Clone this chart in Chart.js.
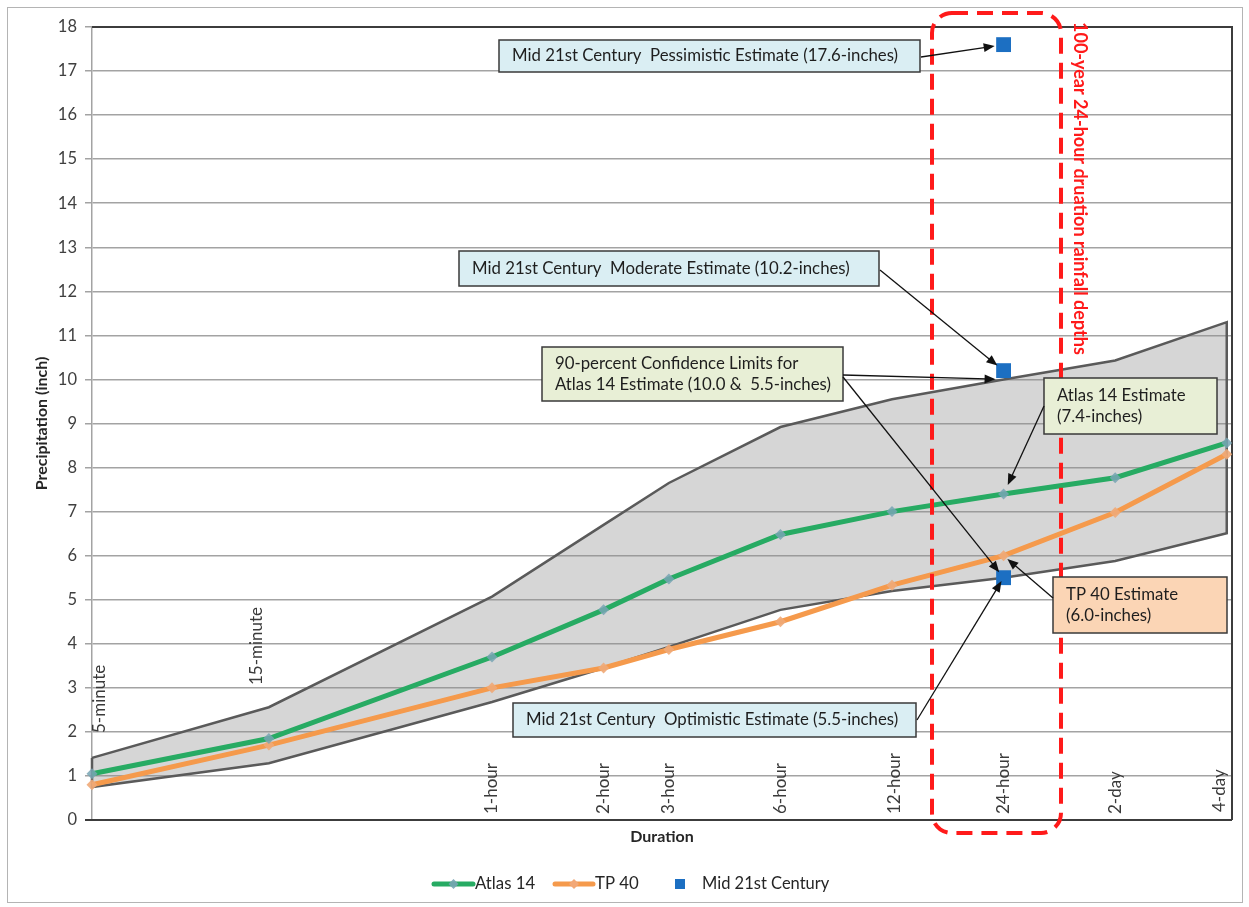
<!DOCTYPE html>
<html>
<head>
<meta charset="utf-8">
<title>100-year precipitation depth by duration</title>
<script src="https://cdn.jsdelivr.net/npm/chart.js@4.4.1/dist/chart.umd.min.js"></script>
<style>
  html, body { margin: 0; padding: 0; background: #ffffff; }
  #wrap { width: 1249px; height: 907px; position: relative; }
  canvas { display: block; }
</style>
</head>
<body>
<div id="wrap"><canvas id="chart" width="1249" height="907"></canvas></div>
<script>
// Storm durations (minutes) and their axis labels
const durationsMin = [5, 15, 60, 120, 180, 360, 720, 1440, 2880, 5760];
const durationLabels = ['5-minute', '15-minute', '1-hour', '2-hour', '3-hour', '6-hour', '12-hour', '24-hour', '2-day', '4-day'];

// 100-year precipitation depths (inches)
const atlas14 = [1.05, 1.85, 3.70, 4.77, 5.47, 6.48, 7.00, 7.40, 7.77, 8.56];
const tp40    = [0.80, 1.70, 3.00, 3.45, 3.87, 4.50, 5.33, 6.00, 6.98, 8.30];

// 90-percent confidence limits for Atlas 14
const upper90 = [1.41, 2.56, 5.07, 6.70, 7.65, 8.92, 9.55, 10.00, 10.43, 11.30];
const lower90 = [0.75, 1.29, 2.68, 3.45, 3.93, 4.77, 5.20, 5.50, 5.88, 6.51];

// Mid 21st century 24-hour estimates: pessimistic, moderate, optimistic
const midCenturyDurationMin = 1440;
const midCentury = [17.6, 10.2, 5.5];

// Precipitation axis ticks
const yTicks = [0, 1, 2, 3, 4, 5, 6, 7, 8, 9, 10, 11, 12, 13, 14, 15, 16, 17, 18];

const FONT = 'Lato, "Open Sans", "Noto Sans", sans-serif';
Chart.defaults.font.family = FONT;

const toPoints = ys => durationsMin.map((d, i) => ({ x: d, y: ys[i] }));
// closed outline of the confidence band: upper limit out, lower limit back
const bandOutline = [
  ...toPoints(upper90),
  ...toPoints(lower90).reverse(),
  { x: durationsMin[0], y: upper90[0] }
];
const fmt = v => v.toFixed(1);
const idx24 = durationsMin.indexOf(1440);

const BLUE_BOX = '#daeef3', GREEN_BOX = '#e8efd6', ORANGE_BOX = '#fbd5b5';
const BOX_FONT = '16.8px ' + FONT;

// callout boxes: pixel layout of each box, text, and the value its arrow points to
const callouts = [
  { lines: [`Mid 21st Century  Pessimistic Estimate (${fmt(midCentury[0])}-inches)`],
    box: [499, 40, 421, 32], fill: BLUE_BOX, from: [921, 57],
    target: [midCenturyDurationMin, midCentury[0]], back: 9 },
  { lines: [`Mid 21st Century  Moderate Estimate (${fmt(midCentury[1])}-inches)`],
    box: [459, 251, 420, 35], fill: BLUE_BOX, from: [880, 270],
    target: [midCenturyDurationMin, midCentury[1]], back: 8 },
  { lines: ['90-percent Confidence Limits for', `Atlas 14 Estimate (${fmt(upper90[idx24])} &  ${fmt(lower90[idx24])}-inches)`],
    box: [542, 347, 301, 54], fill: GREEN_BOX, from: [843, 375],
    target: [1440, upper90[idx24]], back: 8,
    extra: { from: [843, 377], target: [1440, lower90[idx24]], back: 7 } },
  { lines: ['Atlas 14 Estimate', `(${fmt(atlas14[idx24])}-inches)`],
    box: [1044, 378, 173, 56], fill: GREEN_BOX, from: [1044, 406],
    target: [1440, atlas14[idx24]], back: 10 },
  { lines: ['TP 40 Estimate', `(${fmt(tp40[idx24])}-inches)`],
    box: [1053, 577, 174, 56], fill: ORANGE_BOX, from: [1053, 598],
    target: [1440, tp40[idx24]], back: 5 },
  { lines: [`Mid 21st Century  Optimistic Estimate (${fmt(midCentury[2])}-inches)`],
    box: [513, 703, 403, 34], fill: BLUE_BOX, from: [917, 720],
    target: [midCenturyDurationMin, midCentury[2]], back: 4 }
];

function drawArrow(ctx, x0, y0, x1, y1, back) {
  const a = Math.atan2(y1 - y0, x1 - x0);
  const c = Math.cos(a), s = Math.sin(a);
  const tx = x1 - back * c, ty = y1 - back * s;
  const hl = 11, hw = 4.5;
  ctx.save();
  ctx.strokeStyle = '#111';
  ctx.fillStyle = '#111';
  ctx.lineWidth = 1.3;
  ctx.beginPath();
  ctx.moveTo(x0, y0);
  ctx.lineTo(tx - (hl - 2) * c, ty - (hl - 2) * s);
  ctx.stroke();
  ctx.beginPath();
  ctx.moveTo(tx, ty);
  ctx.lineTo(tx - hl * c + hw * s, ty - hl * s - hw * c);
  ctx.lineTo(tx - hl * c - hw * s, ty - hl * s + hw * c);
  ctx.closePath();
  ctx.fill();
  ctx.restore();
}

function roundRectPath(ctx, x, y, w, h, r) {
  ctx.beginPath();
  ctx.moveTo(x + r, y);
  ctx.lineTo(x + w - r, y);
  ctx.arcTo(x + w, y, x + w, y + r, r);
  ctx.lineTo(x + w, y + h - r);
  ctx.arcTo(x + w, y + h, x + w - r, y + h, r);
  ctx.lineTo(x + r, y + h);
  ctx.arcTo(x, y + h, x, y + h - r, r);
  ctx.lineTo(x, y + r);
  ctx.arcTo(x, y, x + r, y, r);
  ctx.closePath();
}

// frame of the plot and the outer chart border, under the data
const framePlugin = {
  id: 'frame',
  beforeDatasetsDraw(chart) {
    const { ctx, chartArea: a } = chart;
    ctx.save();
    ctx.strokeStyle = '#b4b4b4';
    ctx.lineWidth = 1;
    ctx.strokeRect(7.5, 7.5, 1235, 895);
    ctx.strokeStyle = '#3c3c3c';
    ctx.lineWidth = 2;
    ctx.beginPath();
    ctx.moveTo(a.left, a.top);
    ctx.lineTo(a.right, a.top);
    ctx.lineTo(a.right, a.bottom);
    ctx.stroke();
    ctx.beginPath();
    ctx.moveTo(a.left - 7, a.bottom);
    ctx.lineTo(a.right, a.bottom);
    ctx.stroke();
    ctx.restore();
  }
};

// duration labels, callouts, highlight box and legend
const overlayPlugin = {
  id: 'overlay',
  afterDatasetsDraw(chart) {
    const { ctx, scales: { x, y } } = chart;

    // rotated duration labels next to the axis
    const labelShift = { '5-minute': [8, 81], '15-minute': [-12, 129], '12-hour': [3, 0], '4-day': [-7, 2] };
    ctx.save();
    ctx.font = '17px ' + FONT;
    ctx.fillStyle = '#3a3a3a';
    ctx.textAlign = 'left';
    ctx.textBaseline = 'middle';
    durationLabels.forEach((lab, i) => {
      const sh = labelShift[lab] || [0, 0];
      const px = x.getPixelForValue(durationsMin[i]) + sh[0];
      const py = 814 - sh[1];
      ctx.save();
      ctx.translate(px, py);
      ctx.rotate(-Math.PI / 2);
      ctx.fillText(lab, 0, 0);
      ctx.restore();
    });
    ctx.restore();

    // 24-hour highlight
    ctx.save();
    ctx.strokeStyle = '#ff1a1a';
    ctx.lineWidth = 4;
    ctx.setLineDash([16, 9]);
    roundRectPath(ctx, 932, 13, 129, 820, 20);
    ctx.stroke();
    ctx.restore();

    ctx.save();
    ctx.font = 'bold 18px ' + FONT;
    ctx.fillStyle = '#ff1a1a';
    ctx.textAlign = 'left';
    ctx.textBaseline = 'middle';
    ctx.translate(1080, 22);
    ctx.rotate(Math.PI / 2);
    ctx.fillText('100-year 24-hour druation rainfall depths', 0, 0);
    ctx.restore();

    // callouts
    callouts.forEach(c => {
      const [bx, by, bw, bh] = c.box;
      ctx.save();
      ctx.fillStyle = c.fill;
      ctx.fillRect(bx, by, bw, bh);
      ctx.strokeStyle = '#3a3a3a';
      ctx.lineWidth = 1.5;
      ctx.strokeRect(bx, by, bw, bh);
      ctx.font = BOX_FONT;
      ctx.fillStyle = '#1e1e1e';
      ctx.textAlign = 'left';
      ctx.textBaseline = 'middle';
      const lh = 21;
      const y0 = by + bh / 2 - (c.lines.length - 1) * lh / 2;
      c.lines.forEach((t, k) => ctx.fillText(t, bx + 13, y0 + k * lh));
      ctx.restore();
      const arrows = [c];
      if (c.extra) arrows.push(c.extra);
      arrows.forEach(ar => {
        const tx = x.getPixelForValue(ar.target[0]);
        const ty = y.getPixelForValue(ar.target[1]);
        drawArrow(ctx, ar.from[0], ar.from[1], tx, ty, ar.back);
      });
    });
  },
  afterDraw(chart) {
    const { ctx } = chart;
    const ly = 884;
    ctx.save();
    ctx.lineCap = 'round';
    const series = [
      { text: 'Atlas 14', color: '#27ab63', marker: 'rgba(120,165,180,0.9)', x0: 434, x1: 473 },
      { text: 'TP 40', color: '#f59a4c', marker: '#f2a877', x0: 555, x1: 593 }
    ];
    series.forEach(s => {
      ctx.strokeStyle = s.color;
      ctx.lineWidth = 5;
      ctx.beginPath();
      ctx.moveTo(s.x0, ly);
      ctx.lineTo(s.x1, ly);
      ctx.stroke();
      const mx = (s.x0 + s.x1) / 2;
      ctx.fillStyle = s.marker;
      ctx.beginPath();
      ctx.moveTo(mx, ly - 5); ctx.lineTo(mx + 5, ly); ctx.lineTo(mx, ly + 5); ctx.lineTo(mx - 5, ly);
      ctx.closePath();
      ctx.fill();
      ctx.font = '16.8px ' + FONT;
      ctx.fillStyle = '#262626';
      ctx.textAlign = 'left';
      ctx.textBaseline = 'middle';
      ctx.fillText(s.text, s.x1 + 2, ly);
    });
    ctx.fillStyle = '#1c6fc2';
    ctx.fillRect(675, ly - 5, 10, 10);
    ctx.fillStyle = '#262626';
    ctx.font = '16.5px ' + FONT;
    ctx.textBaseline = 'middle';
    ctx.fillText('Mid 21st Century', 702, ly);
    ctx.restore();
  }
};

new Chart(document.getElementById('chart'), {
  type: 'scatter',
  data: {
    datasets: [
      {
        label: 'Mid 21st Century',
        data: midCentury.map(v => ({ x: midCenturyDurationMin, y: v })),
        pointStyle: 'rect',
        pointRadius: 10.5,
        pointHoverRadius: 10.5,
        backgroundColor: '#1c6fc2',
        borderWidth: 0,
        order: 1
      },
      {
        label: 'Atlas 14',
        data: toPoints(atlas14),
        showLine: true,
        borderColor: '#27ab63',
        borderWidth: 5,
        pointStyle: 'rectRot',
        pointRadius: 5.5,
        pointHoverRadius: 5.5,
        pointBackgroundColor: 'rgba(120,165,180,0.85)',
        pointBorderWidth: 0,
        order: 2
      },
      {
        label: 'TP 40',
        data: toPoints(tp40),
        showLine: true,
        borderColor: '#f59a4c',
        borderWidth: 5,
        pointStyle: 'rectRot',
        pointRadius: 5.5,
        pointHoverRadius: 5.5,
        pointBackgroundColor: 'rgba(240,170,120,0.9)',
        pointBorderWidth: 0,
        order: 3
      },
      {
        label: '90-percent Confidence Limits',
        data: bandOutline,
        showLine: true,
        fill: 'shape',
        backgroundColor: 'rgba(140,140,140,0.36)',
        borderColor: '#5a5a5a',
        borderWidth: 2.5,
        pointRadius: 0,
        pointHoverRadius: 0,
        order: 4
      }
    ]
  },
  options: {
    responsive: false,
    animation: false,
    clip: false,
    events: [],
    layout: { padding: { left: 0, right: 17, top: 27, bottom: 0 } },
    plugins: { legend: { display: false }, tooltip: { enabled: false } },
    scales: {
      x: {
        type: 'logarithmic',
        min: 5,
        max: 5951,
        ticks: { display: false },
        grid: { display: false, drawTicks: false },
        border: { display: false },
        title: {
          display: true, text: 'Duration', color: '#262626',
          font: { size: 16, weight: 'bold' }, padding: { top: 0, bottom: 61 }
        },
        afterFit: s => { s.height = 87; }
      },
      y: {
        min: 0,
        max: 18,
        afterBuildTicks: s => { s.ticks = yTicks.map(v => ({ value: v })); },
        ticks: { font: { size: 16.5 }, color: '#404040', padding: 8 },
        grid: { color: '#a3a3a3', lineWidth: 1.5, tickLength: 7 },
        border: { color: '#a3a3a3', width: 1.5 },
        title: {
          display: true, text: 'Precipitation (inch)', color: '#262626',
          font: { size: 16, weight: 'bold' }, padding: { top: 32, bottom: 0 }
        },
        afterFit: s => { s.width = 92; }
      }
    }
  },
  plugins: [framePlugin, overlayPlugin]
});
</script>
</body>
</html>
